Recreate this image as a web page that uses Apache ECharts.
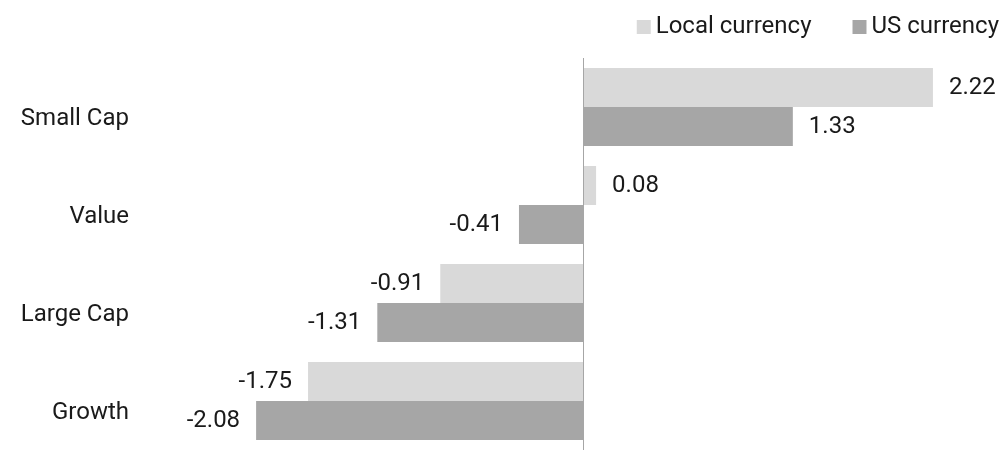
<!DOCTYPE html>
<html>
<head>
<meta charset="utf-8">
<script src="https://cdn.jsdelivr.net/npm/echarts@6/dist/echarts.min.js"></script>
<style>
html,body{margin:0;padding:0;background:#fff;}
#chart{width:1002px;height:453px;}
</style>
</head>
<body>
<div id="chart"></div>
<script>
var categories = ['Small Cap', 'Value', 'Large Cap', 'Growth'];
var localCurrency = [2.22, 0.08, -0.91, -1.75];
var usCurrency = [1.33, -0.41, -1.31, -2.08];
var seriesNames = ['Local currency', 'US currency'];

var FONT = 'Roboto';
var FS = 24;
var TXT = '#1a1a1a';

function toData(arr) {
  return arr.map(function (v) {
    return { value: v, label: { position: v < 0 ? 'left' : 'right' } };
  });
}

var chart = echarts.init(document.getElementById('chart'));
chart.setOption({
  animation: false,
  textStyle: { fontFamily: FONT },
  legend: {
    right: 0,
    top: 10,
    padding: [5, 3, 5, 5],
    itemWidth: 14,
    itemHeight: 14,
    itemGap: 41,
    icon: 'rect',
    textStyle: { fontFamily: FONT, fontSize: FS, color: TXT },
    data: seriesNames
  },
  grid: { left: 190, right: 25, top: 58, bottom: 3, containLabel: false },
  xAxis: {
    type: 'value',
    min: -2.5,
    max: 2.5,
    show: false
  },
  yAxis: {
    type: 'category',
    inverse: true,
    data: categories,
    axisLine: { show: false },
    axisTick: { show: false },
    axisLabel: {
      margin: 61,
      fontFamily: FONT,
      fontSize: FS,
      lineHeight: 24,
      verticalAlign: 'top',
      color: TXT
    }
  },
  series: [{
    name: seriesNames[0],
    type: 'bar',
    data: toData(localCurrency),
    barWidth: 39,
    barGap: '0%',
    itemStyle: { color: '#d9d9d9' },
    label: { show: true, distance: 16, fontFamily: FONT, fontSize: FS, color: TXT, formatter: function (p) { return p.value.toFixed(2); } },
    markLine: {
      silent: true,
      symbol: 'none',
      label: { show: false },
      lineStyle: { color: '#a6a6a6', width: 1, type: 'solid' },
      data: [{ xAxis: 0 }]
    }
  }, {
    name: seriesNames[1],
    type: 'bar',
    data: toData(usCurrency),
    barWidth: 39,
    barGap: '0%',
    itemStyle: { color: '#a6a6a6' },
    label: { show: true, distance: 16, fontFamily: FONT, fontSize: FS, color: TXT, formatter: function (p) { return p.value.toFixed(2); } }
  }]
});
</script>
</body>
</html>
